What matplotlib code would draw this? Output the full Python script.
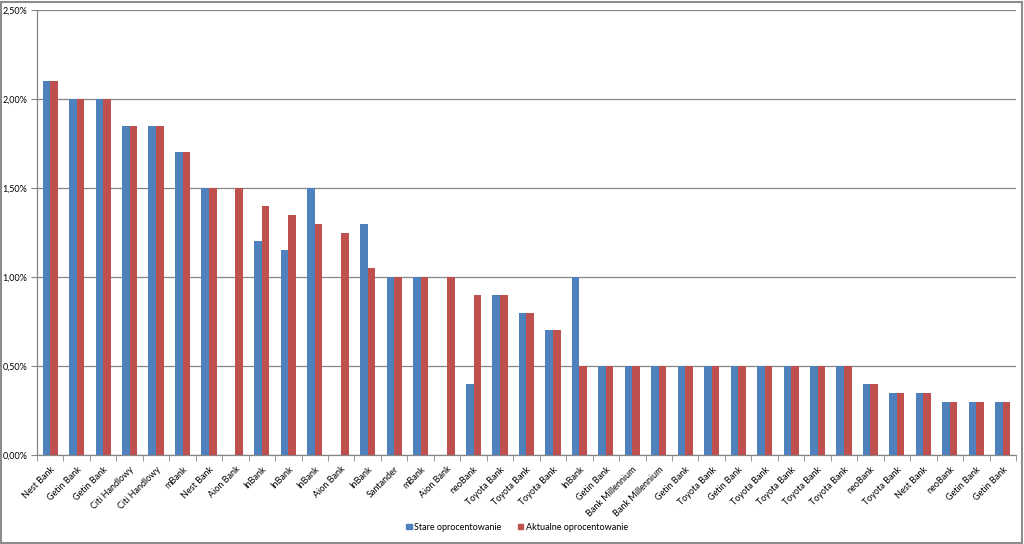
import numpy as np
import matplotlib
matplotlib.use("Agg")
import matplotlib.pyplot as plt
from matplotlib.patches import Patch, Rectangle
from matplotlib.ticker import FuncFormatter, FixedLocator

plt.rcParams['font.family'] = ['Lato', 'DejaVu Sans']

# bank names, in the order shown on the chart
banks = ['Nest Bank', 'Getin Bank', 'Getin Bank', 'Citi Handlowy', 'Citi Handlowy',
         'mBank', 'Nest Bank', 'Aion Bank', 'InBank', 'InBank', 'InBank', 'Aion Bank',
         'InBank', 'Santander', 'mBank', 'Aion Bank', 'neoBank', 'Toyota Bank',
         'Toyota Bank', 'Toyota Bank', 'InBank', 'Getin Bank', 'Bank Millennium',
         'Bank Millennium', 'Getin Bank', 'Toyota Bank', 'Getin Bank', 'Toyota Bank',
         'Toyota Bank', 'Toyota Bank', 'Toyota Bank', 'neoBank', 'Toyota Bank',
         'Nest Bank', 'neoBank', 'Getin Bank', 'Getin Bank']

# old rate (%), 0 where there was no old rate
stare = [2.10, 2.00, 2.00, 1.85, 1.85, 1.70, 1.50, 0, 1.20, 1.15, 1.50, 0,
         1.30, 1.00, 1.00, 0, 0.40, 0.90, 0.80, 0.70, 1.00, 0.50, 0.50,
         0.50, 0.50, 0.50, 0.50, 0.50, 0.50, 0.50, 0.50, 0.40, 0.35,
         0.35, 0.30, 0.30, 0.30]

# current rate (%)
aktualne = [2.10, 2.00, 2.00, 1.85, 1.85, 1.70, 1.50, 1.50, 1.40, 1.35, 1.30, 1.25,
            1.05, 1.00, 1.00, 1.00, 0.90, 0.90, 0.80, 0.70, 0.50, 0.50, 0.50,
            0.50, 0.50, 0.50, 0.50, 0.50, 0.50, 0.50, 0.50, 0.40, 0.35,
            0.35, 0.30, 0.30, 0.30]

yticks = [0, 0.5, 1.0, 1.5, 2.0, 2.5]

blue = '#4F81BD'
red = '#C0504D'
axis_grey = '#868686'

fig = plt.figure(figsize=(10.24, 5.44), dpi=100)
ax = fig.add_axes([0.0361, 0.1636, 0.9561, 0.818])

x = np.arange(len(banks))
w = 1 / 3.5
ax.bar(x - w / 2, stare, width=w, color=blue, label='Stare oprocentowanie', zorder=3)
ax.bar(x + w / 2, aktualne, width=w, color=red, label='Aktualne oprocentowanie', zorder=3)

ax.set_xlim(-0.5, len(banks) - 0.5)
ax.set_ylim(0, 2.5)
ax.set_yticks(yticks)
ax.yaxis.set_major_formatter(FuncFormatter(lambda v, p: f'{v:.2f}%'.replace('.', ',')))
ax.yaxis.grid(True, color=axis_grey, linewidth=0.9, zorder=0)

ax.set_xticks(x)
ax.set_xticklabels(banks, rotation=45, ha='right', rotation_mode='anchor', fontsize=6.5)
ax.xaxis.set_minor_locator(FixedLocator(np.arange(-0.5, len(banks), 1)))
ax.tick_params(axis='x', which='major', length=0, pad=7)
ax.tick_params(axis='x', which='minor', length=4, color=axis_grey, direction='out')
ax.tick_params(axis='y', length=4, color=axis_grey, labelsize=6.5, pad=3)

for side in ['top', 'right']:
    ax.spines[side].set_visible(False)
for side in ['left', 'bottom']:
    ax.spines[side].set_color(axis_grey)
    ax.spines[side].set_linewidth(0.9)

handles = [Patch(color=blue), Patch(color=red)]
fig.legend(handles, ['Stare oprocentowanie', 'Aktualne oprocentowanie'],
           loc='center', bbox_to_anchor=(0.505, 0.031), ncol=2, frameon=False,
           fontsize=6.5, handlelength=0.6, handleheight=0.6, handletextpad=0.3,
           columnspacing=1.8)

# chart area border
fig.patches.append(Rectangle((0.001, 0.002), 0.997, 0.995, transform=fig.transFigure,
                             fill=False, edgecolor='#8c8c8c', linewidth=1.5))

fig.savefig('out.png', dpi=100)
